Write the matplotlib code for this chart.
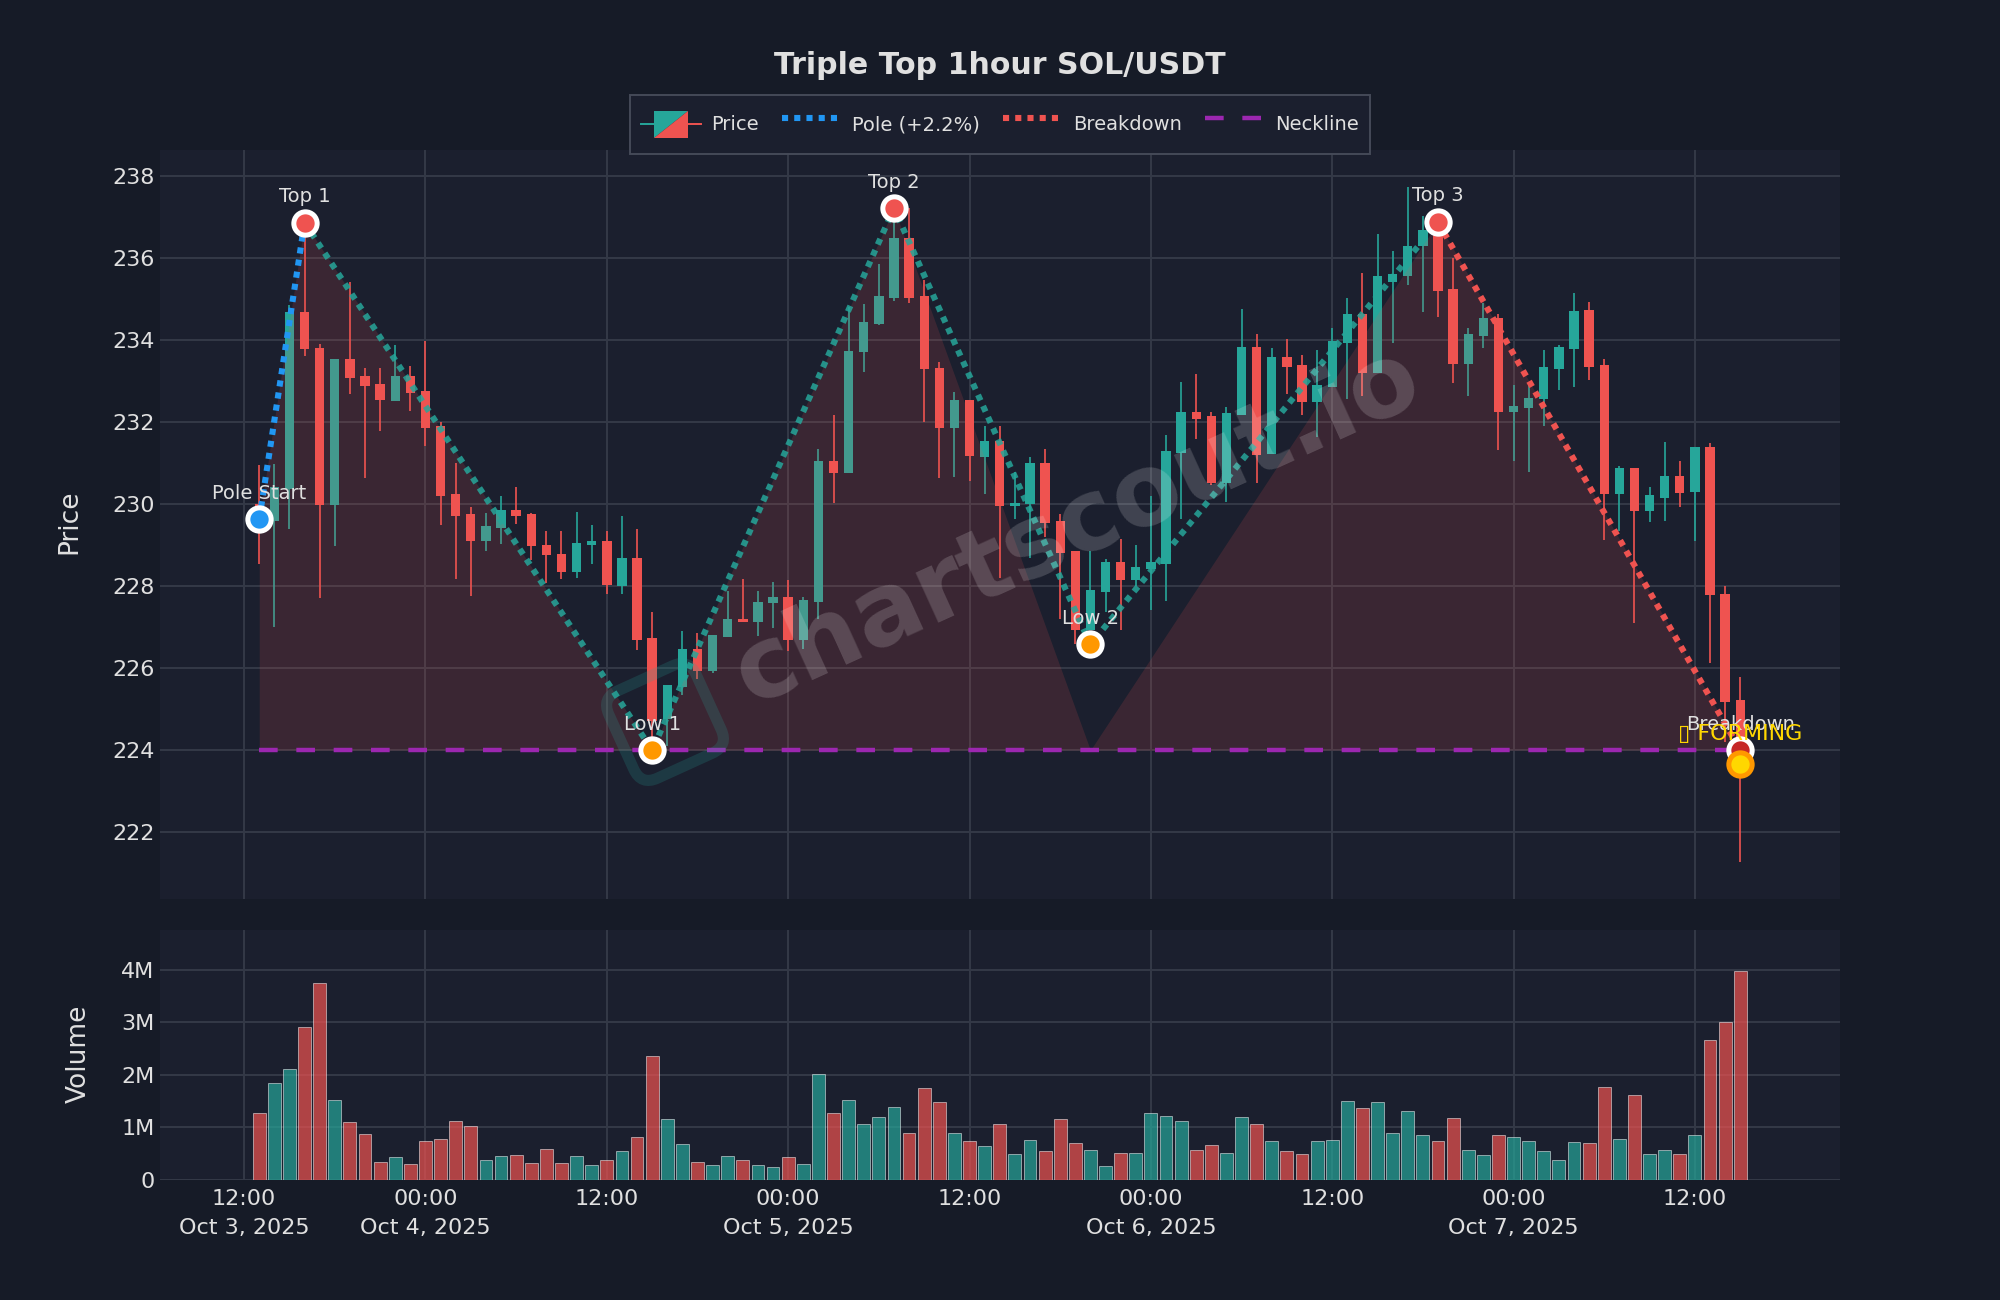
import matplotlib
matplotlib.use("Agg")
import matplotlib.dates as mdates
import matplotlib.pyplot as plt
import pandas as pd
from matplotlib.collections import LineCollection
from matplotlib.legend_handler import HandlerBase
from matplotlib.lines import Line2D
from matplotlib.patches import FancyBboxPatch, Polygon, Rectangle
from matplotlib.transforms import Affine2D

# candles, hourly from Oct 3 13:00
times = pd.date_range("2025-10-03 13:00", periods=99, freq="h")
opens = [230.0, 229.6, 230.37, 234.69, 233.81, 229.97, 233.54, 233.12, 232.94, 232.51,
         233.12, 232.75, 231.91, 230.25, 229.76, 229.1, 229.43, 229.86, 229.76, 229.01,
         228.79, 228.34, 229.01, 229.11, 228.01, 228.69, 226.74, 224.75, 225.55, 226.48,
         225.93, 226.77, 227.21, 227.12, 227.59, 227.73, 226.68, 227.61, 231.06, 230.77,
         233.71, 234.39, 235.04, 236.5, 235.08, 233.33, 231.87, 232.54, 231.16, 231.55,
         229.96, 230.0, 231.01, 229.59, 228.86, 226.94, 227.85, 228.59, 228.15, 228.42,
         228.54, 231.26, 232.26, 232.15, 230.51, 232.18, 233.83, 231.22, 233.58, 233.39,
         232.5, 232.86, 233.94, 234.64, 233.19, 235.43, 235.56, 236.29, 236.69, 235.24,
         233.42, 234.11, 234.54, 232.24, 232.35, 232.56, 233.31, 233.78, 234.74, 233.39,
         230.25, 230.89, 229.84, 230.16, 230.7, 230.29, 231.39, 227.82, 225.22]
highs = [230.96, 230.99, 234.87, 236.88, 233.91, 233.55, 235.42, 233.33, 233.32, 233.88,
         233.38, 233.97, 232.0, 231.0, 229.93, 229.78, 230.2, 230.43, 229.78, 229.35,
         229.35, 229.8, 229.5, 229.34, 229.71, 229.39, 227.36, 225.6, 226.9, 226.87,
         226.81, 227.89, 228.18, 227.89, 228.11, 228.15, 227.73, 231.35, 232.18, 234.81,
         234.88, 235.85, 237.23, 237.23, 235.46, 233.48, 232.74, 232.54, 231.91, 231.91,
         230.79, 231.16, 231.34, 229.77, 228.86, 228.87, 228.67, 229.14, 229.01, 230.19,
         231.7, 232.97, 233.17, 232.24, 232.37, 234.76, 234.14, 233.8, 234.04, 233.64,
         233.77, 234.31, 235.04, 235.63, 236.6, 236.18, 237.73, 237.03, 236.9, 236.01,
         234.29, 234.9, 234.65, 232.91, 232.97, 233.75, 233.88, 235.15, 234.94, 233.53,
         230.94, 230.89, 230.43, 231.52, 231.05, 231.39, 231.5, 228.0, 225.78]
lows = [228.54, 227.0, 229.39, 233.61, 227.72, 228.98, 232.68, 230.63, 231.79, 232.51,
        232.28, 231.41, 229.5, 228.17, 227.77, 228.85, 229.04, 229.51, 228.63, 228.09,
        228.18, 228.21, 228.53, 227.81, 227.8, 226.45, 224.0, 224.1, 225.35, 225.73,
        225.88, 226.77, 227.13, 226.79, 226.97, 226.41, 226.47, 227.2, 230.04, 230.77,
        233.23, 234.36, 234.96, 234.92, 232.0, 230.63, 230.67, 230.57, 230.25, 228.21,
        229.64, 228.69, 229.19, 227.2, 226.59, 226.94, 227.36, 226.94, 228.0, 227.42,
        227.63, 229.64, 231.59, 230.47, 230.05, 232.18, 230.51, 231.22, 232.68, 232.18,
        231.64, 232.86, 232.56, 232.65, 233.19, 233.94, 235.34, 234.7, 234.56, 232.96,
        232.65, 233.8, 231.32, 231.05, 230.79, 231.91, 232.78, 232.86, 233.03, 229.13,
        229.34, 227.1, 229.56, 229.58, 229.92, 229.11, 226.13, 224.2, 221.28]
closes = [229.6, 230.43, 234.69, 233.78, 229.97, 233.55, 233.08, 232.89, 232.54, 233.13,
          232.71, 231.86, 230.21, 229.72, 229.1, 229.46, 229.86, 229.71, 228.98, 228.75,
          228.34, 229.05, 229.11, 228.02, 228.7, 226.69, 224.7, 225.6, 226.48, 225.93,
          226.81, 227.2, 227.13, 227.61, 227.73, 226.68, 227.66, 231.06, 230.77, 233.74,
          234.45, 235.08, 236.5, 235.04, 233.29, 231.87, 232.54, 231.18, 231.55, 229.96,
          230.04, 231.01, 229.54, 228.82, 226.94, 227.9, 228.59, 228.15, 228.47, 228.59,
          231.29, 232.26, 232.09, 230.51, 232.23, 233.83, 231.2, 233.58, 233.35, 232.5,
          232.9, 233.98, 234.64, 233.21, 235.56, 235.61, 236.31, 236.69, 235.19, 233.42,
          234.14, 234.54, 232.24, 232.39, 232.6, 233.34, 233.83, 234.72, 233.34, 230.25,
          230.89, 229.84, 230.22, 230.7, 230.28, 231.39, 227.79, 225.18, 223.67]
volumes = [1.28, 1.84, 2.12, 2.92, 3.76, 1.52, 1.11, 0.88, 0.35, 0.43,
           0.31, 0.75, 0.79, 1.13, 1.03, 0.38, 0.46, 0.48, 0.33, 0.59,
           0.33, 0.45, 0.28, 0.39, 0.55, 0.82, 2.37, 1.16, 0.69, 0.34,
           0.29, 0.46, 0.39, 0.28, 0.24, 0.44, 0.31, 2.01, 1.27, 1.53,
           1.07, 1.2, 1.39, 0.89, 1.75, 1.49, 0.9, 0.75, 0.64, 1.07,
           0.5, 0.76, 0.56, 1.17, 0.71, 0.58, 0.27, 0.51, 0.51, 1.27,
           1.22, 1.13, 0.58, 0.67, 0.52, 1.2, 1.07, 0.74, 0.56, 0.5,
           0.75, 0.77, 1.51, 1.38, 1.49, 0.9, 1.31, 0.86, 0.75, 1.19,
           0.57, 0.48, 0.86, 0.82, 0.75, 0.56, 0.38, 0.73, 0.71, 1.77,
           0.78, 1.62, 0.5, 0.57, 0.5, 0.86, 2.67, 3.0, 3.97]

# pattern pivots: candle index, price, label
pivot_idx = [0, 3, 26, 42, 55, 78, 98]
pivot_price = [229.63, 236.87, 224.0, 237.22, 226.58, 236.88, 224.0]
pivot_labels = ["Pole Start", "Top 1", "Low 1", "Top 2", "Low 2", "Top 3", "Breakdown"]
fill_price = [229.63, 236.87, 224.0, 237.22, 224.0, 236.88, 224.0]
neckline = 224.0
forming_price = 223.67

price_ticks = [222, 224, 226, 228, 230, 232, 234, 236, 238]
volume_ticks = [0, 1, 2, 3, 4]
volume_tick_labels = ["0", "1M", "2M", "3M", "4M"]
x_ticks = pd.date_range("2025-10-03 12:00", "2025-10-07 12:00", freq="12h")
x_tick_labels = ["12:00\nOct 3, 2025", "00:00\nOct 4, 2025", "12:00", "00:00\nOct 5, 2025", "12:00",
                 "00:00\nOct 6, 2025", "12:00", "00:00\nOct 7, 2025", "12:00"]

BG = "#161b27"
PANEL = "#1b1f2e"
TEXT = "#e0e0e0"
GREEN = "#26a69a"
RED = "#ef5350"
BLUE = "#2196f3"
PURPLE = "#9c27b0"
ORANGE = "#ff9800"
GOLD = "#ffd700"
GRID = "#343947"
DOTTED = (0, (1, 1))
DASHED = (0, (4.2, 4.2))

W, H = 2000, 1300


class CandleHandler(HandlerBase):
    # two coloured triangles with a wick on each side
    def create_artists(self, legend, orig, xd, yd, width, height, fontsize, trans):
        x0, x1 = -xd + 0.22 * width, -xd + 0.78 * width
        mid = -yd + height / 2
        y0, y1 = mid - 4.7, mid + 4.7
        return [
            Line2D([-xd, x0], [mid, mid], color=GREEN, lw=0.7, transform=trans),
            Line2D([x1, -xd + width], [mid, mid], color=RED, lw=0.7, transform=trans),
            Polygon([[x0, y0], [x0, y1], [x1, y1]], color=GREEN, lw=0, transform=trans),
            Polygon([[x0, y0], [x1, y0], [x1, y1]], color=RED, lw=0, transform=trans),
        ]


plt.rcParams["font.family"] = "DejaVu Sans"
fig = plt.figure(figsize=(10, 6.5), dpi=200, facecolor=BG)
ax = fig.add_axes([160 / W, 1 - 899 / H, 1680 / W, 749 / H], facecolor=PANEL)
ax_vol = fig.add_axes([160 / W, 1 - 1180 / H, 1680 / W, 250 / H], facecolor=PANEL, sharex=ax)

x = mdates.date2num(times)
hour = 1 / 24
colors = [GREEN if c >= o else RED for o, c in zip(opens, closes)]

# candles
wicks = [[(xi, lo), (xi, hi)] for xi, lo, hi in zip(x, lows, highs)]
ax.add_collection(LineCollection(wicks, colors=colors, linewidths=0.6, zorder=2))
for xi, o, c, col in zip(x, opens, closes, colors):
    ax.add_patch(Rectangle((xi - 0.31 * hour, min(o, c)), 0.62 * hour, max(abs(c - o), 0.03),
                           facecolor=col, edgecolor="none", zorder=2))

# pattern
px = x[pivot_idx]
ax.fill_between(px, fill_price, neckline, color=RED, alpha=0.15, lw=0, zorder=3)
ax.plot(px[:2], pivot_price[:2], ls=DOTTED, color=BLUE, lw=2.2, zorder=4)
ax.plot(px[1:6], pivot_price[1:6], ls=DOTTED, color=GREEN, lw=2.2, alpha=0.85, zorder=4)
ax.plot(px[5:], pivot_price[5:], ls=DOTTED, color=RED, lw=2.2, zorder=4)
ax.plot([px[0], px[-1]], [neckline, neckline], color=PURPLE, lw=1.6, ls=DASHED, zorder=4)

marker_colors = [BLUE, RED, ORANGE, RED, ORANGE, RED, "#c62828"]
for xi, yi, lab, col in zip(px, pivot_price, pivot_labels, marker_colors):
    ax.plot(xi, yi, "o", ms=8.4, mfc=col, mec="white", mew=1.8, zorder=6)
    ax.annotate(lab, (xi, yi), xytext=(0, 6.0), textcoords="offset points", ha="center", va="bottom",
                fontsize=7, color=TEXT, zorder=8)
ax.plot(px[-1], forming_price, "o", ms=8.4, mfc=GOLD, mec=ORANGE, mew=1.8, zorder=7)
ax.annotate("\u25af FORMING", (px[-1], forming_price), xytext=(0, 7.1), textcoords="offset points", ha="center",
            va="bottom", fontsize=8, color=GOLD, zorder=8)

# volume
ax_vol.bar(x, volumes, width=0.85 * hour, color=colors, alpha=0.7, edgecolor="white", linewidth=0.25, zorder=2)

# axes
ax.set_xlim(mdates.date2num(pd.Timestamp("2025-10-03 06:26")), mdates.date2num(pd.Timestamp("2025-10-07 21:36")))
ax.set_ylim(220.37, 238.64)
ax.set_yticks(price_ticks)
ax_vol.set_ylim(0, 4.76)
ax_vol.set_yticks(volume_ticks)
ax_vol.set_yticklabels(volume_tick_labels)
ax_vol.set_xticks(mdates.date2num(x_ticks))
ax_vol.set_xticklabels(x_tick_labels, linespacing=1.55)
ax.tick_params(labelbottom=False)
for a in (ax, ax_vol):
    a.grid(True, color=GRID, lw=0.7, zorder=1)
    a.set_axisbelow(True)
    a.tick_params(length=0, colors=TEXT, labelsize=8, pad=2)
    for s in a.spines.values():
        s.set_visible(False)
ax_vol.tick_params(axis="x", pad=3.2)
fig.text(69 / W, 1 - 522 / H, "Price", rotation=90, ha="center", va="center", fontsize=9.5, color=TEXT)
fig.text(79 / W, 1 - 1054 / H, "Volume", rotation=90, ha="center", va="center", fontsize=9.5, color=TEXT)
fig.text(0.5, 1 - 65 / H, "Triple Top 1hour SOL/USDT", ha="center", va="center", fontsize=10.8,
         fontweight="bold", color=TEXT)

handles = [
    Rectangle((0, 0), 1, 1),
    Line2D([], [], ls=DOTTED, color=BLUE, lw=2.2),
    Line2D([], [], ls=DOTTED, color=RED, lw=2.2),
    Line2D([], [], color=PURPLE, lw=1.6, ls=DASHED),
]
leg = ax.legend(handles, ["Price", "Pole (+2.2%)", "Breakdown", "Neckline"], ncol=4, loc="lower center",
                bbox_to_anchor=(0.5, 0.9947), borderaxespad=0, fontsize=7, labelcolor=TEXT, facecolor=PANEL,
                edgecolor="#454a58", framealpha=1, fancybox=False, handlelength=3.1, handleheight=2.6,
                handletextpad=0.5, columnspacing=1.2, borderpad=0.55,
                handler_map={Rectangle: CandleHandler()})
leg.get_frame().set_linewidth(0.7)
leg.set_zorder(10)

# watermark
fig.text(1078 / W, 1 - 527 / H, "chartscout.io", rotation=24.5, ha="center", va="center", fontsize=36,
         fontweight="bold", color="white", alpha=0.17, zorder=20, rotation_mode="anchor")
logo = FancyBboxPatch((-48, -48), 96, 96, boxstyle="round,pad=0,rounding_size=18", fill=False, lw=4,
                      edgecolor=GREEN, alpha=0.2,
                      transform=Affine2D().rotate_deg(24.5).translate(665, H - 722),
                      zorder=20)
fig.add_artist(logo)

fig.savefig("out.png", dpi=200, facecolor=BG)
